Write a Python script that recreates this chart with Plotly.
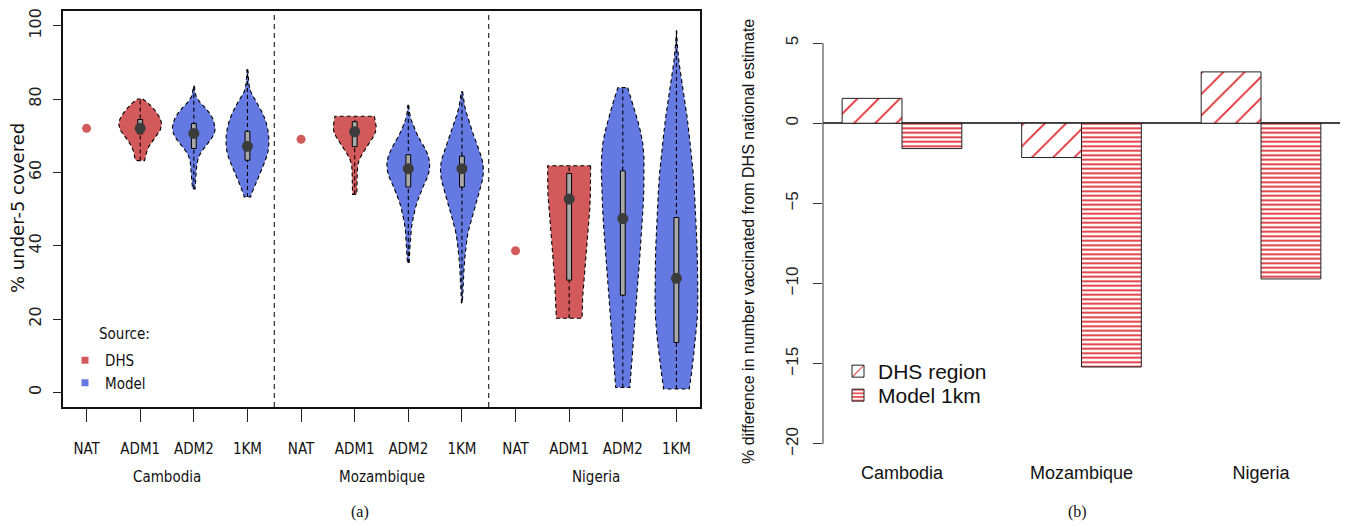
import plotly.graph_objects as go

W, H = 1348, 526
OFF = 8                      # page body margin of the browser
FW, FH = W - 2 * OFF, H - OFF


def fx(x):
    return (x - OFF) / FW


def fy(y):
    return 1 - (y - OFF) / FH


# ---------------- data: panel (a) ----------------
countries = ["Cambodia", "Mozambique", "Nigeria"]
levels = ["NAT", "ADM1", "ADM2", "1KM"]

nat_coverage = [72.0, 69.0, 38.6]

adm1_median = [72.0, 71.1, 52.7]
adm1_q1 = [70.5, 67.0, 30.6]
adm1_q3 = [74.4, 73.8, 59.7]
adm2_median = [70.6, 61.0, 47.4]
adm2_q1 = [66.5, 56.0, 26.5]
adm2_q3 = [73.3, 64.8, 60.4]
km_median = [67.1, 61.0, 31.1]
km_q1 = [63.3, 56.0, 13.6]
km_q3 = [71.2, 64.4, 47.7]

# violin outlines: coverage level and relative half-width
cam_adm1_y = [80.0, 79.0, 77.5, 76.0, 74.5, 73.0, 71.5, 70.0, 68.5, 67.0, 65.5, 64.0, 63.2]
cam_adm1_w = [0.12, 0.35, 0.6, 0.8, 0.95, 1.0, 0.93, 0.75, 0.55, 0.4, 0.3, 0.25, 0.2]
cam_adm2_y = [83.5, 82.0, 80.5, 79.0, 77.5, 76.0, 74.5, 73.0, 72.0, 70.5, 69.0, 67.5, 66.0, 64.5, 63.0, 61.0, 59.0, 57.0, 55.5]
cam_adm2_w = [0.03, 0.05, 0.12, 0.3, 0.55, 0.75, 0.9, 0.98, 1.0, 0.95, 0.8, 0.6, 0.4, 0.25, 0.17, 0.12, 0.1, 0.08, 0.06]
cam_km_y = [88.0, 86.0, 84.0, 82.0, 80.0, 78.0, 76.0, 74.0, 72.0, 70.0, 68.0, 66.0, 64.0, 62.0, 60.0, 58.0, 56.0, 54.0, 53.3]
cam_km_w = [0.02, 0.04, 0.07, 0.15, 0.35, 0.55, 0.72, 0.85, 0.94, 0.99, 1.0, 0.97, 0.88, 0.75, 0.6, 0.45, 0.3, 0.18, 0.15]

moz_adm1_y = [75.3, 74.0, 72.5, 71.0, 69.5, 68.0, 66.5, 65.0, 63.5, 62.0, 60.0, 58.0, 56.0, 54.0]
moz_adm1_w = [0.92, 0.97, 1.0, 0.97, 0.85, 0.68, 0.5, 0.35, 0.22, 0.14, 0.12, 0.11, 0.1, 0.1]
moz_adm2_y = [78.3, 76.5, 74.5, 72.5, 70.5, 68.5, 66.5, 64.5, 62.5, 60.5, 58.5, 56.5, 54.5, 52.5, 50.5, 48.5, 46.5, 44.5, 42.0, 39.0, 36.5, 35.3]
moz_adm2_w = [0.02, 0.05, 0.12, 0.25, 0.4, 0.58, 0.78, 0.93, 1.0, 0.98, 0.88, 0.72, 0.58, 0.45, 0.34, 0.25, 0.19, 0.14, 0.1, 0.07, 0.05, 0.04]
moz_km_y = [82.0, 80.0, 78.0, 76.0, 74.0, 72.0, 70.0, 68.0, 66.0, 64.0, 62.0, 60.0, 58.0, 56.0, 54.0, 52.0, 50.0, 48.0, 46.0, 44.0, 42.0, 40.0, 37.0, 34.0, 31.0, 28.0, 24.4]
moz_km_w = [0.03, 0.07, 0.13, 0.22, 0.32, 0.43, 0.55, 0.68, 0.8, 0.92, 0.99, 1.0, 0.96, 0.88, 0.78, 0.68, 0.58, 0.48, 0.38, 0.3, 0.24, 0.19, 0.14, 0.1, 0.07, 0.04, 0.02]

nig_adm1_y = [61.8, 58.0, 54.0, 50.0, 46.0, 42.0, 38.0, 34.0, 30.0, 26.0, 22.0, 20.2]
nig_adm1_w = [1.0, 1.0, 0.99, 0.96, 0.9, 0.84, 0.78, 0.72, 0.67, 0.63, 0.61, 0.6]
nig_adm2_y = [83.1, 80.0, 77.0, 74.0, 71.0, 68.0, 64.0, 60.0, 55.0, 50.0, 45.0, 40.0, 35.0, 30.0, 25.0, 20.0, 15.0, 10.0, 5.0, 1.3]
nig_adm2_w = [0.23, 0.4, 0.55, 0.7, 0.83, 0.93, 0.99, 1.0, 0.98, 0.94, 0.89, 0.83, 0.77, 0.7, 0.63, 0.56, 0.5, 0.44, 0.38, 0.33]
nig_km_y = [98.7, 95.0, 90.0, 85.0, 80.0, 75.0, 70.0, 65.0, 60.0, 55.0, 50.0, 45.0, 40.0, 35.0, 30.0, 25.0, 20.0, 15.0, 10.0, 5.0, 0.9]
nig_km_w = [0.01, 0.04, 0.12, 0.25, 0.38, 0.5, 0.6, 0.7, 0.78, 0.84, 0.89, 0.93, 0.96, 0.98, 1.0, 1.0, 0.97, 0.9, 0.8, 0.7, 0.6]

# ---------------- data: panel (b) ----------------
bar_groups = ["Cambodia", "Mozambique", "Nigeria"]
dhs_region_diff = [1.55, -2.14, 3.2]
model_1km_diff = [-1.58, -15.2, -9.71]
b_ticks = [-20, -15, -10, -5, 0, 5]

# ---------------- styles ----------------
DHS_RED = "#D35A5A"
MODEL_BLUE = "#6479E1"
HATCH_RED = "#E02A30"
NARROW = "Liberation Sans Narrow, Arial Narrow, DejaVu Sans Condensed, sans-serif"
DEJAVU = "DejaVu Sans, sans-serif"
ARIAL = "Liberation Sans, Arial, sans-serif"
SERIF = "Liberation Serif, Times New Roman, serif"
HW = 0.4      # violin max half-width (x units)
BOX_HW = 0.045

fig = go.Figure()

violins = [
    (0, 1, DHS_RED, cam_adm1_y, cam_adm1_w, adm1_q1[0], adm1_median[0], adm1_q3[0]),
    (0, 2, MODEL_BLUE, cam_adm2_y, cam_adm2_w, adm2_q1[0], adm2_median[0], adm2_q3[0]),
    (0, 3, MODEL_BLUE, cam_km_y, cam_km_w, km_q1[0], km_median[0], km_q3[0]),
    (1, 1, DHS_RED, moz_adm1_y, moz_adm1_w, adm1_q1[1], adm1_median[1], adm1_q3[1]),
    (1, 2, MODEL_BLUE, moz_adm2_y, moz_adm2_w, adm2_q1[1], adm2_median[1], adm2_q3[1]),
    (1, 3, MODEL_BLUE, moz_km_y, moz_km_w, km_q1[1], km_median[1], km_q3[1]),
    (2, 1, DHS_RED, nig_adm1_y, nig_adm1_w, adm1_q1[2], adm1_median[2], adm1_q3[2]),
    (2, 2, MODEL_BLUE, nig_adm2_y, nig_adm2_w, adm2_q1[2], adm2_median[2], adm2_q3[2]),
    (2, 3, MODEL_BLUE, nig_km_y, nig_km_w, km_q1[2], km_median[2], km_q3[2]),
]

for ci, li, col, ys, ws, q1, med, q3 in violins:
    p = 1 + 4 * ci + li
    px = [p + w * HW for w in ws] + [p - w * HW for w in reversed(ws)]
    py = list(ys) + list(reversed(ys))
    px.append(px[0])
    py.append(py[0])
    fig.add_trace(go.Scatter(x=px, y=py, mode="lines", fill="toself", fillcolor=col,
                             line=dict(color="black", width=1.1, dash="4px,3px"),
                             showlegend=False, hoverinfo="skip", xaxis="x", yaxis="y"))
    fig.add_trace(go.Scatter(x=[p, p], y=[min(ys), max(ys)], mode="lines",
                             line=dict(color="black", width=1.1, dash="4px,3px"),
                             showlegend=False, hoverinfo="skip", xaxis="x", yaxis="y"))
    fig.add_trace(go.Scatter(x=[p - BOX_HW, p + BOX_HW, p + BOX_HW, p - BOX_HW, p - BOX_HW],
                             y=[q1, q1, q3, q3, q1], mode="lines", fill="toself",
                             fillcolor="#A8A8A8", line=dict(color="black", width=1),
                             showlegend=False, hoverinfo="skip", xaxis="x", yaxis="y"))
    fig.add_trace(go.Scatter(x=[p], y=[med], mode="markers",
                             marker=dict(color="#3C3C3C", size=11),
                             showlegend=False, xaxis="x", yaxis="y"))

# national points
fig.add_trace(go.Scatter(x=[1 + 4 * i for i in range(len(countries))], y=nat_coverage,
                         mode="markers", marker=dict(color=DHS_RED, size=9),
                         showlegend=False, xaxis="x", yaxis="y"))

# legend (a)
fig.add_trace(go.Scatter(x=[None], y=[None], mode="markers", name="DHS",
                         marker=dict(symbol="square", size=7, color=DHS_RED),
                         legend="legend", xaxis="x", yaxis="y"))
fig.add_trace(go.Scatter(x=[None], y=[None], mode="markers", name="Model",
                         marker=dict(symbol="square", size=7, color=MODEL_BLUE),
                         legend="legend", xaxis="x", yaxis="y"))

# ---------------- panel (b) bars ----------------
centers = [2 + 3 * i for i in range(len(bar_groups))]
fig.add_trace(go.Bar(x=[c - 0.5 for c in centers], y=dhs_region_diff, width=1, opacity=1,
                     name="DHS region", legend="legend2", xaxis="x2", yaxis="y2",
                     marker=dict(color="white", opacity=1, line=dict(color="#222222", width=1),
                                 pattern=dict(shape="/", fgcolor=HATCH_RED, bgcolor="white",
                                              fgopacity=1, size=15, solidity=0.12))))
fig.add_trace(go.Bar(x=[c + 0.5 for c in centers], y=model_1km_diff, width=1, opacity=1,
                     name="Model 1km", legend="legend3", xaxis="x2", yaxis="y2",
                     marker=dict(color="white", opacity=1, line=dict(color="#222222", width=1),
                                 pattern=dict(shape="-", fgcolor=HATCH_RED, bgcolor="white",
                                              fgopacity=1, size=4.5, solidity=0.4))))

# ---------------- layout ----------------
pos_ticks = [1 + 4 * ci + li for ci in range(len(countries)) for li in range(len(levels))]
pos_text = [lv for _ in countries for lv in levels]

shapes = []
for ci in range(1, len(countries)):
    xs = 4 * ci + 0.5
    shapes.append(dict(type="line", xref="x", yref="y domain", x0=xs, x1=xs, y0=0, y1=1,
                       line=dict(color="black", width=1, dash="5px,4px")))
shapes.append(dict(type="line", xref="x2 domain", yref="y2", x0=0, x1=0,
                   y0=min(b_ticks), y1=max(b_ticks), line=dict(color="#333333", width=1)))


def ann(text, x, y, font, xref="paper", angle=0, xanchor="center"):
    return dict(text=text, x=x, y=y, xref=xref, yref="paper", showarrow=False,
                xanchor=xanchor, yanchor="middle", textangle=angle, font=font)


annotations = [
    ann("Source:", fx(97), fy(334), dict(family=NARROW, size=15, color="#111"), xanchor="left"),
    ann("% under-5 covered", fx(17), fy(208), dict(family=DEJAVU, size=18, color="#111"), angle=-90),
    ann("% difference in number vaccinated from DHS national estimate", fx(748), fy(242),
        dict(family=ARIAL, size=16, color="#111"), angle=-90),
    ann("(a)", fx(360), fy(512), dict(family=SERIF, size=16, color="#111")),
    ann("(b)", fx(1077), fy(512), dict(family=SERIF, size=16, color="#111")),
]
for ci, c in enumerate(countries):
    annotations.append(ann(c, 1 + 4 * ci + 1.5, fy(477), dict(family=NARROW, size=15, color="#111"),
                           xref="x"))

legend_b = dict(xanchor="left", yanchor="top", bgcolor="rgba(0,0,0,0)",
                font=dict(family=ARIAL, size=21, color="#111"), tracegroupgap=0)

fig.update_layout(
    width=FW, height=FH,
    margin=dict(l=0, r=0, t=0, b=0),
    paper_bgcolor="white", plot_bgcolor="white",
    barmode="overlay",
    shapes=shapes,
    annotations=annotations,
    xaxis=dict(domain=[fx(63), fx(700)], range=[0.56, 12.44], tickvals=pos_ticks, ticktext=pos_text,
               ticks="outside", ticklen=13, tickcolor="#222", showline=True, mirror=True,
               linecolor="#111", linewidth=1.5, showgrid=False, zeroline=False,
               ticklabelstandoff=14, tickfont=dict(family=NARROW, size=15, color="#111"),
               anchor="y", automargin=False),
    yaxis=dict(domain=[fy(407), fy(11)], range=[-4, 104], tickvals=[0, 20, 40, 60, 80, 100],
               ticks="outside", ticklen=8, tickcolor="#222", showline=True, mirror=True,
               linecolor="#111", linewidth=1.5, showgrid=False, zeroline=False, tickangle=-90,
               ticklabelstandoff=6, ticklabeloverflow="allow",
               tickfont=dict(family=DEJAVU, size=16, color="#222"),
               anchor="x", automargin=False),
    xaxis2=dict(domain=[fx(823), fx(1340)], range=[0.68, 9.32], tickvals=centers, ticktext=bar_groups,
                ticks="", showline=False, showgrid=False, zeroline=False,
                tickfont=dict(family=ARIAL, size=18, color="#111"), anchor="y2", automargin=False),
    yaxis2=dict(domain=[fy(460), fy(27)], range=[-21, 6], tickvals=b_ticks,
                ticks="outside", ticklen=9, tickcolor="#333", showline=False, showgrid=False,
                zeroline=True, zerolinecolor="#444", zerolinewidth=1.5, tickangle=-90,
                ticklabelstandoff=8, ticklabeloverflow="allow",
                tickfont=dict(family=ARIAL, size=17, color="#222"),
                anchor="x2", automargin=False),
    legend=dict(x=fx(65), y=fy(344), xanchor="left", yanchor="top", bgcolor="rgba(0,0,0,0)",
                font=dict(family=NARROW, size=15, color="#111"), tracegroupgap=0),
    legend2=dict(x=fx(838), y=fy(351), **legend_b),
    legend3=dict(x=fx(838), y=fy(375), **legend_b),
    showlegend=True,
)

fig.write_html("out.html")
